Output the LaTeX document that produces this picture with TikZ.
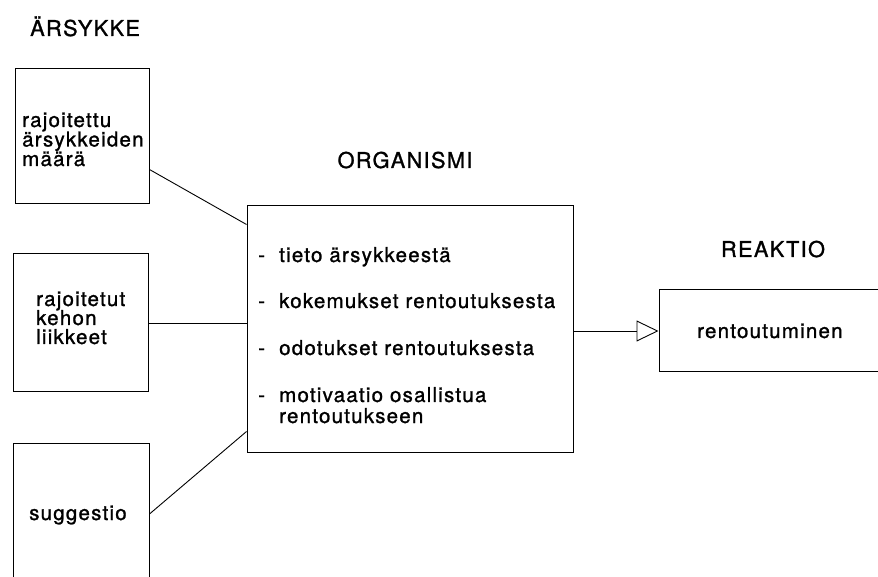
\documentclass[tikz,border=0pt]{standalone}
\usepackage{fontspec}
\setmainfont{TeX Gyre Heros}[LetterSpace=6, FakeBold=1.2]
\usetikzlibrary{arrows.meta,calc}
\begin{document}
\begin{tikzpicture}[x=1pt,y=1pt,
  box/.style={draw=black, line width=1pt, inner sep=0pt},
  conn/.style={draw=black, line width=0.9pt},
  txt/.style={inner sep=0pt, font=\fontsize{20.5}{20}\selectfont, text=black},
  head/.style={inner sep=0pt, font=\fontsize{21.8}{22}\selectfont, text=black},
  txtw/.style={txt, anchor=base west}]
\useasboundingbox (0,0) rectangle (878,576);
\fill[white] (0,0) rectangle (878,576);
\clip (0,0) rectangle (878,576);

% boxes
\node[box, minimum width=134pt, minimum height=135pt] (b1) at (82,439.5) {};
\node[box, minimum width=135pt, minimum height=138pt] (b2) at (80.5,253) {};
\node[box, minimum width=136pt, minimum height=142pt] (b3) at (81,62) {};
\node[box, minimum width=326pt, minimum height=246pt] (org) at (410,247) {};
\node[box, minimum width=231pt, minimum height=82pt] (reak) at (774.5,245) {};

% headings
\node[head, anchor=base west] (h1) at (30,540) {ÄRSYKKE};
\node[head, anchor=base] (h2) at (405,408) {ORGANISMI};
\node[head, anchor=base] (h3) at (773,319) {REAKTIO};

% box 1 text
\node[txtw] (t11) at (22,449) {rajoitettu};
\node[txtw] (t12) at (22,429.5) {ärsykkeiden};
\node[txtw] (t13) at (22,410) {määrä};

% box 2 text
\node[txtw] (t21) at (36,270) {rajoitetut};
\node[txtw] (t22) at (36,251) {kehon};
\node[txtw] (t23) at (36,232) {liikkeet};

% box 3 text
\node[txtw] (t31) at (29,56) {suggestio};

% organism text
\node[txtw] (o1) at (258,314) {\makebox[21pt][l]{-}tieto ärsykkeestä};
\node[txtw] (o2) at (258,268) {\makebox[21pt][l]{-}kokemukset rentoutuksesta};
\node[txtw] (o3) at (258,221) {\makebox[21pt][l]{-}odotukset rentoutuksesta};
\node[txtw] (o4) at (258,174) {\makebox[21pt][l]{-}motivaatio osallistua};
\node[txtw] (o5) at (279,153) {rentoutukseen};

% reaction text
\node[txtw] (r1) at (697,238) {rentoutuminen};

% connectors
\draw[conn] ($(b1.south east)+(0,35)$) -- ($(org.north west)+(0,-19)$);
\draw[conn] (b2.east) -- (b2.east -| org.west);
\draw[conn] (b3.east) -- ($(org.south west)+(0,21)$);
\draw[conn, -{Triangle[open, length=22pt, width=21pt, line width=0.9pt]}]
  (org.east |- reak.west) -- (reak.west);
\end{tikzpicture}
\end{document}
